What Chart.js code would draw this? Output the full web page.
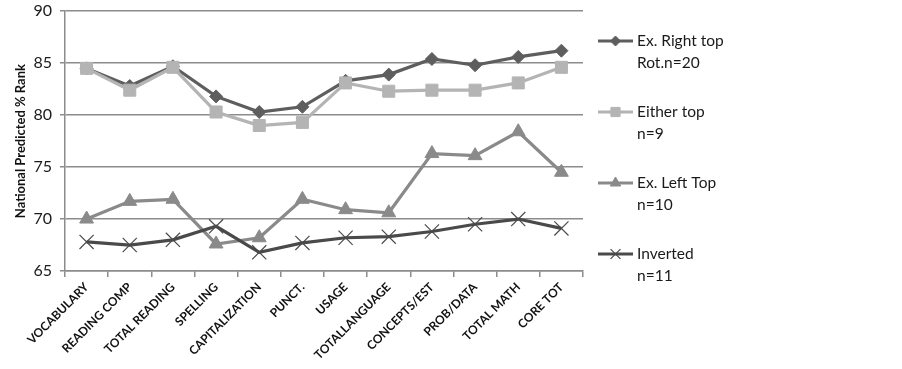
<!DOCTYPE html>
<html>
<head>
<meta charset="utf-8">
<script src="https://cdn.jsdelivr.net/npm/chart.js@4/dist/chart.umd.min.js"></script>
<style>
  html, body { margin: 0; padding: 0; background: #fff; }
  #wrap { position: relative; width: 902px; height: 369px; }
</style>
</head>
<body>
<div id="wrap"><canvas id="c" width="902" height="369"></canvas></div>
<script>
const categories = ['VOCABULARY', 'READING COMP', 'TOTAL READING', 'SPELLING', 'CAPITALIZATION', 'PUNCT.', 'USAGE', 'TOTALLANGUAGE', 'CONCEPTS/EST', 'PROB/DATA', 'TOTAL MATH', 'CORE TOT'];
const exRightTop = [84.5, 82.8, 84.7, 81.8, 80.3, 80.8, 83.3, 83.9, 85.4, 84.8, 85.6, 86.2];
const eitherTop  = [84.5, 82.4, 84.6, 80.3, 79.0, 79.3, 83.1, 82.3, 82.4, 82.4, 83.1, 84.6];
const exLeftTop  = [70.0, 71.7, 71.9, 67.6, 68.2, 71.9, 70.9, 70.6, 76.3, 76.1, 78.4, 74.5];
const inverted   = [67.8, 67.5, 68.0, 69.3, 66.8, 67.7, 68.2, 68.3, 68.8, 69.5, 70.0, 69.1];
const seriesLabels = [['Ex. Right top', 'Rot.n=20'], ['Either top', 'n=9'], ['Ex. Left Top', 'n=10'], ['Inverted', 'n=11']];
const yTitle = 'National Predicted % Rank';
const yMin = 65, yMax = 90, yStep = 5;

const FONT = 'Lato, "Open Sans", "Liberation Sans", sans-serif';

const styles = [
  { color: '#5e5e5e', pointStyle: 'rectRot', radius: 6.5, bw: 1, lgRadius: 5 },
  { color: '#b4b4b4', pointStyle: 'rect', radius: 8.5, bw: 1, lgRadius: 6.5 },
  { color: '#8a8a8a', pointStyle: 'triangle', radius: 8, bw: 1, lgRadius: 6 },
  { color: '#4a4a4a', pointStyle: 'crossRot', radius: 10, bw: 1.2, lgRadius: 7 }
];
const seriesData = [exRightTop, eitherTop, exLeftTop, inverted];

const datasets = seriesData.map((d, i) => ({
  label: seriesLabels[i].join(' '),
  data: d,
  borderColor: styles[i].color,
  backgroundColor: styles[i].color,
  borderWidth: 3.2,
  pointStyle: styles[i].pointStyle,
  pointRadius: styles[i].radius,
  pointHoverRadius: styles[i].radius,
  pointBackgroundColor: styles[i].color,
  pointBorderColor: styles[i].color,
  pointBorderWidth: styles[i].bw,
  tension: 0,
  order: 4 - i
}));

const legendPlugin = {
  id: 'sideLegend',
  afterDraw(chart) {
    const ctx = chart.ctx;
    ctx.save();
    seriesLabels.forEach((lines, i) => {
      const st = styles[i];
      const y0 = 41 + i * 71;
      ctx.strokeStyle = st.color;
      ctx.lineWidth = 3;
      ctx.beginPath();
      ctx.moveTo(598, y0);
      ctx.lineTo(633, y0);
      ctx.stroke();
      ctx.fillStyle = st.color;
      ctx.strokeStyle = st.color;
      ctx.lineWidth = st.bw;
      Chart.helpers.drawPoint(ctx, { pointStyle: st.pointStyle, radius: st.lgRadius, borderWidth: st.bw, rotation: 0 }, 615.5, y0);
      ctx.fillStyle = '#1a1a1a';
      ctx.font = '15.5px ' + FONT;
      ctx.textBaseline = 'middle';
      ctx.textAlign = 'left';
      lines.forEach((t, k) => ctx.fillText(t, 637, y0 + k * 21.5));
    });
    ctx.restore();
  }
};

new Chart(document.getElementById('c'), {
  type: 'line',
  data: { labels: categories, datasets },
  options: {
    responsive: false,
    animation: false,
    devicePixelRatio: 1,
    layout: { padding: { left: 13, right: 319, top: 9, bottom: 0 } },
    plugins: { legend: { display: false }, tooltip: { enabled: false } },
    scales: {
      x: {
        offset: true,
        grid: { offset: true, drawOnChartArea: false, drawTicks: true, tickLength: 6, color: '#8c8c8c', lineWidth: 1.5 },
        border: { color: '#8c8c8c', width: 1.5 },
        ticks: { autoSkip: false, minRotation: 45, maxRotation: 45, padding: 3, color: '#111', font: { family: FONT, weight: 'bold', size: 12 } },
        afterFit: s => { s.height = 98; s.paddingLeft = 0; s.paddingRight = 0; }
      },
      y: {
        min: yMin, max: yMax,
        ticks: { stepSize: yStep, padding: 8, color: '#1a1a1a', font: { family: FONT, size: 16 } },
        grid: { color: '#8c8c8c', lineWidth: 1.5, tickLength: 5 },
        border: { color: '#8c8c8c', width: 1.5 },
        title: { display: true, text: yTitle, color: '#111', padding: { top: 0, bottom: 2 }, font: { family: FONT, weight: 'bold', size: 13 } },
        afterFit: s => { s.width = 52; s.paddingTop = 0; s.paddingBottom = 0; }
      }
    }
  },
  plugins: [legendPlugin]
});
</script>
</body>
</html>
